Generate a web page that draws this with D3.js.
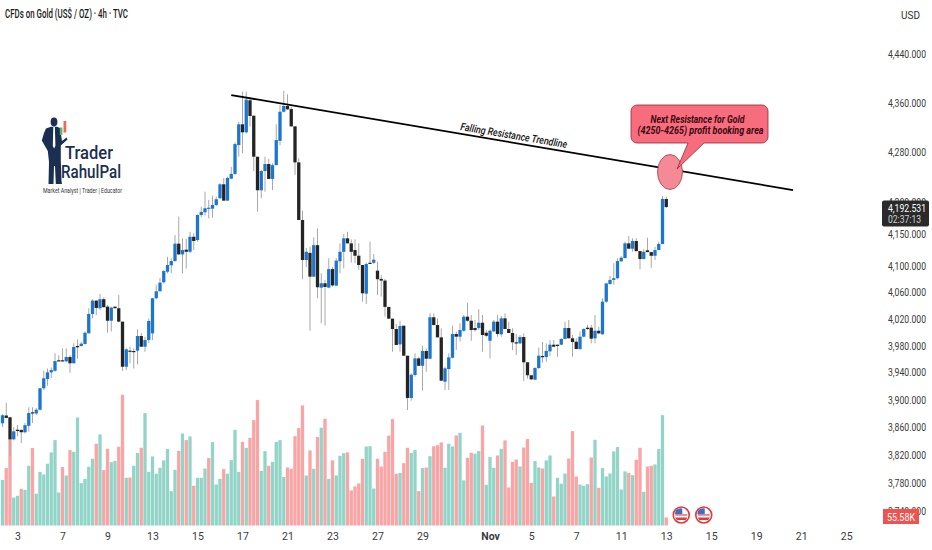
<!DOCTYPE html>
<html>
<head>
<meta charset="utf-8">
<title>CFDs on Gold</title>
<script src="https://cdn.jsdelivr.net/npm/d3@7"></script>
<style>
    html, body { margin: 0; padding: 0; background: #fff; }
    svg { display: block; font-family: Roboto, sans-serif; }
    .axis text { fill: #3a3a3a; font-size: 10.5px; font-family: Roboto, sans-serif; }
    .axis .domain { display: none; }
</style>
</head>
<body>
<div id="chart"></div>
<script>
// 4h candles
const opens = [
    3865.7,3877,3874.4,3842.5,3856.4,3856,3852.7,3862,3881.6,3880,
    3885.4,3916.8,3930.5,3940.3,3942.6,3958.2,3958.2,3956.7,3963,3953.7,
    3979.5,3979.5,3982.5,3998.4,4027.6,4047.8,4036.3,4050,4038.7,4017.4,
    4038.7,4036.3,4016,3948.6,3972.5,3972,3972.5,3994.4,3978.4,3988.4,
    3998.4,4051.4,4062,4075.8,4092,4101.8,4108.4,4135.3,4118.7,4126,
    4122.7,4146,4141,4180,4184.3,4190,4190,4195.8,4206.4,4228.5,
    4202.6,4237.4,4245,4291.2,4324.8,4311.8,4364,4338.8,4272.5,4219,
    4249.6,4260.8,4237,4259,4298,4345.2,4354.6,4349.6,4321.5,4263.4,
    4172.2,4110,4121,4084.4,4133,4067.6,4074.3,4067.6,4096,4070.6,
    4108,4122.7,4143.6,4135.8,4125.4,4116.6,4102.3,4058.4,4105.8,4105.8,
    4093.6,4081,4078.4,4038.3,4020.5,4004.9,3981.9,4009.9,3965,3902.6,
    3936.4,3961,3950,3972,3960.5,4022.6,4011,3992.4,3926.5,3945.2,
    3962,3997.4,3993.4,4002.3,4023.5,4017.4,4006.4,4006.4,4014.4,3999.3,
    3987.3,4001.4,4016,3997,4021,4004.9,3998.9,3985,3983.4,3992.9,
    3955.2,3936,3929.5,3946.7,3964.5,3963,3971.5,3981.4,3981.4,3981.4,
    3990,4006.4,3991,3985.9,3975,3993.4,4006.9,4006.9,3990.9,4002.3,
    3996.9,4046.2,4073.2,4079.4,4082,4108,4113,4135.8,4127.5,4139.4,
    4123.8,4111.5,4125,4122.2,4116.6,4125.4,4134.8,4205.3
];
const highs = [
    3879,3895.6,3875,3860,3863,3857,3866,3889,3889,3888,
    3917,3942.6,3946,3947.7,3968.6,3965.6,3976,3976,3966,3983.4,
    3989.4,3986,4001,4036.3,4050,4048.8,4058,4053,4041.2,4038.7,
    4039,4056.4,4016,3976,3978.4,3976,4004.4,3999,3993.4,4021,
    4052,4072,4082.4,4094.6,4115,4112.6,4148.7,4177.4,4143.6,4142.5,
    4153.8,4151.3,4181,4193,4216.7,4203.7,4210.5,4208.9,4230,4238.5,
    4240.5,4256.4,4295.6,4329,4378,4378,4367,4339,4272.5,4251.2,
    4272.5,4269,4262,4324.8,4356.2,4379.6,4373.8,4353.4,4321.5,4270,
    4186.8,4128.5,4130.5,4145.2,4159,4089.6,4079.4,4112.6,4099,4112.6,
    4135.8,4150.3,4153.8,4142,4142,4135.8,4102.3,4105.8,4138.4,4119.3,
    4107.4,4087,4081,4038.3,4020.5,4012.5,4017.4,4009.9,3965,3938.8,
    3968.6,3963.5,3980,3976,4028.6,4028.6,4021,4006,3948.6,3968.6,
    4009.9,4001,4013.5,4026,4044.7,4026,4018.5,4034.8,4026,4003.4,
    4004.4,4018.5,4026,4024.5,4028.6,4016,4006,3997.4,3995.9,3998.4,
    3955.2,3936,3948,3977,3985.4,3983.4,3988.4,3988.4,3981.4,3991,
    4016,4018.5,3995.9,3991,4001,4006,4011,4011,4026,4008.4,
    4051.4,4075.2,4085.5,4105,4112.6,4116,4138.4,4147.2,4143.6,4143.6,
    4123.8,4126.5,4144.5,4122.2,4130.5,4138.4,4210,4209
];
const lows = [
    3860,3873,3818,3841,3847,3837,3851,3853.5,3866,3877.7,
    3884,3914.3,3920.6,3932,3941.2,3956.7,3956.7,3955,3939.7,3953.7,
    3960.5,3978.4,3982,3998.4,4021,4026,4033.7,4037.8,3999.3,4001,
    4036,4015,3942.6,3943.7,3953.7,3946,3952,3978.4,3971,3984,
    3988.4,4050,4062,4074,4089.5,4090,4107.4,4117.7,4089.6,4097,
    4121,4125.4,4138.4,4177,4179,4175,4175.8,4194,4205,4202.6,
    4202.6,4236.4,4243.3,4272.5,4278,4310,4321,4249.6,4185.2,4206.4,
    4216.7,4237,4219.4,4259,4291,4344,4348,4320.4,4243.3,4172.2,
    4080.4,4099.2,4002.3,4084.4,4051.4,4013.5,4010,4066.7,4069,4070.6,
    4089.6,4097,4135.8,4106,4105,4094.6,4046.2,4042.8,4103.8,4103.8,
    4056.4,4053.9,4023.7,4020.5,3971,3981,3971,3965,3885,3898.6,
    3933.9,3949.6,3913.3,3941.2,3960,4010,3992.4,3927.5,3914.3,3914.3,
    3961,3973.5,3986,4001,4016,3987.3,4001,4003.4,3971,3993,
    3961,4000.4,3993.4,3993.4,4004.9,3998.9,3973.5,3966,3982.5,3927.5,
    3931,3929,3929,3945.2,3954.6,3956,3964.5,3978.4,3963.5,3981,
    3990,3991,3963.5,3974.5,3973.5,3992.4,4003.4,3983.4,3983.4,3997.4,
    3996.9,4044.2,4072,4072,4080.5,4107,4112.6,4127.5,4122.7,4122.7,
    4095.7,4111,4122.2,4098,4110,4125.4,4134.8,4191
];
const closes = [
    3877.3,3873.4,3842.5,3854,3854.5,3852.7,3863,3880.6,3880,3885.4,
    3916.8,3931.5,3940.3,3943.7,3957,3956.7,3956.7,3963,3953.7,3978,
    3977.5,3983,3999.3,4027.6,4047.8,4036.7,4050,4037.8,4017.4,4037.2,
    4036.3,4016,3948.6,3974.5,3971.5,3971,3994.4,3978.4,3988.4,4017,
    4051.4,4062,4075.2,4093,4102.3,4108.4,4135.3,4118.7,4125.4,4122.7,
    4146,4139.4,4180,4184.8,4190.6,4191.5,4195.8,4204.8,4228.5,4202.6,
    4238.5,4245,4292.8,4324.8,4311.8,4365,4338.3,4272.5,4219,4249.6,
    4260.8,4237,4259,4299.3,4345.2,4354.6,4349.2,4321.5,4263.4,4172.2,
    4110,4122.7,4084.4,4133,4068.2,4074.3,4068.6,4096,4071,4109,
    4122.7,4143.6,4135.8,4122.7,4116.6,4102.3,4059,4103.8,4104.3,4110.5,
    4080.5,4078.4,4038.3,4020.5,4004.9,3981,4009.4,3965,3902.6,3936.8,
    3961,3950,3972,3960.5,4022.6,4011,3992.4,3928,3946.2,3962.6,
    3997.4,3993.4,4003.4,4023.5,4017.4,4003.4,4003.4,4014.4,3995.9,3994.8,
    4002.3,4016,3997.4,4021,4004.9,3998.9,3985,3983.4,3992.9,3955.2,
    3936,3930,3946.7,3965,3963,3972,3981.4,3978.4,3979.5,3990,
    4006.4,3991,3985.4,3975,3993.4,4004.9,4004.9,3990.4,4002.3,3998.4,
    4046.2,4074,4079.4,4082,4108.4,4113.6,4135.8,4127.5,4139.4,4123.8,
    4111.5,4122.7,4122.2,4116.6,4125.4,4134.8,4205.3,4192.531
];
// volume in thousands, 1 = teal bar, 0 = red bar
const volumes = [
    315,396,603,193,205,253,246,412,534,219,
    370,352,426,504,589,228,403,345,520,508,
    745,292,322,405,460,564,628,382,529,437,
    446,543,902,329,331,412,501,536,775,370,
    476,357,398,449,527,237,384,515,635,589,
    614,274,329,329,393,465,575,283,322,389,
    357,451,660,370,577,536,605,727,865,377,
    513,412,439,577,589,334,400,391,616,672,
    828,345,518,391,610,674,736,322,449,345,
    481,499,504,242,269,290,460,545,547,255,
    460,407,508,619,734,357,363,430,536,501,
    520,237,396,400,478,547,554,573,398,564,
    545,621,639,311,467,501,495,513,690,281,
    472,398,483,529,587,262,439,455,407,538,
    596,294,444,400,393,449,483,200,329,288,
    359,462,651,338,283,274,285,469,591,260,
    396,338,359,511,541,248,373,363,347,453,
    536,232,407,412,421,527,761,55.58
];
const volumeUp = [
    1,0,0,1,1,0,1,1,0,1,
    1,1,1,1,1,1,0,1,0,1,
    1,1,1,1,1,0,1,0,0,1,
    1,0,0,1,0,1,1,0,1,1,
    1,1,1,1,1,1,1,0,1,0,
    1,0,1,1,1,0,1,1,1,0,
    1,1,1,1,0,1,0,0,0,1,
    1,0,1,1,1,1,0,0,0,0,
    0,1,0,1,0,1,0,1,0,1,
    1,1,0,0,0,0,0,1,1,1,
    0,0,0,0,0,0,1,0,0,1,
    1,0,1,0,1,0,0,0,1,1,
    1,0,1,1,0,0,1,1,0,1,
    1,1,0,1,0,0,0,0,1,0,
    0,0,1,1,0,1,1,0,1,1,
    1,0,0,0,1,1,1,0,1,0,
    1,1,1,1,1,1,1,0,1,0,
    0,1,0,0,1,1,1,0
];

const priceTicks = [4440, 4360, 4280, 4200, 4150, 4100, 4060, 4020, 3980, 3940, 3900, 3860, 3820, 3780, 3740];
const dateTickBars = [4, 16, 28, 40, 52, 64, 76, 88, 100, 112, 130, 141, 153, 165, 177, 189, 201, 213, 225];
const dateTickLabels = ['3', '7', '9', '13', '15', '17', '21', '23', '27', '29', 'Nov', '5', '7', '11', '13', '15', '19', '21', '25'];
const trendBars = [61, 210.8];
const trendPrices = [4372.5, 4219.4];
const lastPrice = 4192.531;
const countdown = '02:37:13';
const lastVolume = '55.58K';
const eventBars = [181, 187];

const candles = d3.range(opens.length).map(i => ({
    i, open: opens[i], high: highs[i], low: lows[i], close: closes[i], volume: volumes[i], volUp: volumeUp[i]
}));

const width = 932, height = 550;
const svg = d3.select('#chart').append('svg')
    .attr('width', width)
    .attr('height', height);

const xScale = d3.scaleLinear().domain([0, 177]).range([2.5, 666.25]);
const yScale = d3.scaleLog().domain([3780, 4360]).range([483, 102.7]);
const volScale = d3.scaleLinear().domain([0, 1000]).range([525.5, 380.5]);
const bodyWidth = 3.3;

// volume goes under the candles
svg.append('g').selectAll('rect')
    .data(candles)
    .join('rect')
    .attr('x', d => xScale(d.i) - bodyWidth / 2)
    .attr('y', d => volScale(d.volume))
    .attr('width', bodyWidth)
    .attr('height', d => volScale(0) - volScale(d.volume))
    .attr('fill', d => d.volUp ? '#93d4c8' : '#f9a5a5');

svg.append('g').selectAll('line')
    .data(candles)
    .join('line')
    .attr('x1', d => xScale(d.i))
    .attr('x2', d => xScale(d.i))
    .attr('y1', d => yScale(d.high))
    .attr('y2', d => yScale(d.low))
    .attr('stroke', '#a8a8a8')
    .attr('stroke-width', 1);

svg.append('g').selectAll('rect')
    .data(candles)
    .join('rect')
    .attr('x', d => xScale(d.i) - bodyWidth / 2)
    .attr('y', d => yScale(Math.max(d.open, d.close)))
    .attr('width', bodyWidth)
    .attr('height', d => Math.max(1.2, Math.abs(yScale(d.open) - yScale(d.close))))
    .attr('fill', d => d.close >= d.open ? '#1c75cf' : '#242424');

// axes
const priceAxis = d3.axisRight(yScale)
    .tickValues(priceTicks)
    .tickFormat(d3.format(',.3f'))
    .tickSize(0)
    .tickPadding(0);
svg.append('g')
    .attr('class', 'axis')
    .attr('transform', 'translate(888,0)')
    .call(priceAxis)
    .selectAll('text')
    .attr('textLength', 38)
    .attr('lengthAdjust', 'spacingAndGlyphs');

const dateAxis = d3.axisBottom(xScale)
    .tickValues(dateTickBars)
    .tickFormat((d, i) => dateTickLabels[i])
    .tickSize(0)
    .tickPadding(0);
svg.append('g')
    .attr('class', 'axis date-axis')
    .attr('transform', 'translate(0,533)')
    .call(dateAxis)
    .selectAll('text')
    .style('font-weight', (d, i) => dateTickLabels[i] === 'Nov' ? 700 : 400);

svg.append('text')
    .attr('x', 5).attr('y', 17.5)
    .attr('font-size', 12).attr('font-weight', 500).attr('fill', '#1a1a1a')
    .attr('textLength', 123).attr('lengthAdjust', 'spacingAndGlyphs')
    .text('CFDs on Gold (US$ / OZ) · 4h · TVC');
svg.append('text')
    .attr('x', 901).attr('y', 18.5)
    .attr('font-size', 10.5).attr('fill', '#333')
    .attr('textLength', 19).attr('lengthAdjust', 'spacingAndGlyphs')
    .text('USD');

// trendline + annotation
const trend = d3.line().x(d => xScale(d[0])).y(d => yScale(d[1]));
svg.append('path')
    .attr('d', trend(d3.zip(trendBars, trendPrices)))
    .attr('fill', 'none')
    .attr('stroke', '#000')
    .attr('stroke-width', 1.8);

svg.append('text')
    .attr('transform', 'translate(460,130) rotate(9.6)')
    .attr('font-size', 10.5).attr('font-style', 'italic').attr('font-weight', 500).attr('fill', '#111')
    .attr('textLength', 108).attr('lengthAdjust', 'spacingAndGlyphs')
    .text('Falling Resistance Trendline');

svg.append('ellipse')
    .attr('cx', 670).attr('cy', 172).attr('rx', 12.5).attr('ry', 17.5)
    .attr('fill', '#f58a97').attr('stroke', '#a93a48').attr('stroke-width', 0.8);
svg.append('path')
    .attr('d', 'M637,105H762a6,6 0 0 1 6,6V137a6,6 0 0 1 -6,6H704L677,169L688,143H637a6,6 0 0 1 -6,-6V111a6,6 0 0 1 6,-6Z')
    .attr('fill', '#f76d7e').attr('stroke', '#8f2a38').attr('stroke-width', 0.8);
svg.append('text')
    .attr('x', 650.5).attr('y', 123)
    .attr('font-size', 10.5).attr('font-style', 'italic').attr('font-weight', 700).attr('fill', '#3a0a10')
    .attr('textLength', 94).attr('lengthAdjust', 'spacingAndGlyphs')
    .text('Next Resistance for Gold');
svg.append('text')
    .attr('x', 637.5).attr('y', 133.5)
    .attr('font-size', 10.5).attr('font-style', 'italic').attr('font-weight', 700).attr('fill', '#3a0a10')
    .attr('textLength', 126).attr('lengthAdjust', 'spacingAndGlyphs')
    .text('(4250-4265) profit booking area');

// logo
const logo = svg.append('g').attr('fill', '#1b2f52');
logo.append('ellipse').attr('cx', 54).attr('cy', 122).attr('rx', 3.4).attr('ry', 4.4);
logo.append('path').attr('d', 'M46,128.5L51,126.8H57L60,128L62,141L66.5,137.5L67.5,139.5L60.8,145.5L60.8,160L61.5,181L62,184H55.8L55,166L54,166L53.5,184H48.5L49,162L47.8,151L41.8,140.5L44,133Z');
logo.append('path').attr('d', 'M53.3,127H54.9L55.4,146L54.1,148.5L52.8,146Z').attr('fill', '#fff');
logo.append('rect').attr('x', 59.8).attr('y', 127.5).attr('width', 2.6).attr('height', 7.5).attr('fill', '#5fb86a');
logo.append('rect').attr('x', 63.5).attr('y', 121).attr('width', 2.8).attr('height', 11.5).attr('fill', '#ec6a5a');
logo.append('text').attr('x', 65).attr('y', 159)
    .attr('font-size', 18).attr('font-weight', 500).attr('textLength', 48).attr('lengthAdjust', 'spacingAndGlyphs')
    .text('Trader');
logo.append('text').attr('x', 61).attr('y', 178)
    .attr('font-size', 18).attr('font-weight', 500).attr('textLength', 60).attr('lengthAdjust', 'spacingAndGlyphs')
    .text('RahulPal');
svg.append('text').attr('x', 43).attr('y', 192.5)
    .attr('font-size', 6.5).attr('fill', '#333').attr('textLength', 79).attr('lengthAdjust', 'spacingAndGlyphs')
    .text('Market Analyst | Trader | Educator');

// event flags under the last bars
const flags = svg.append('g').selectAll('g')
    .data(eventBars)
    .join('g')
    .attr('transform', d => `translate(${xScale(d)},515)`);
flags.append('circle').attr('r', 8).attr('fill', '#fff').attr('stroke', '#e5383b').attr('stroke-width', 1.6);
flags.append('path').attr('d', 'M-6,2.5H6L4.5,5H-4.5Z').attr('fill', '#e5383b');
flags.append('path').attr('d', 'M-6,-1H6V0.8H-6Z').attr('fill', '#e5838a');
flags.append('path').attr('d', 'M-5.5,-4.5A7,7 0 0 1 1,-6.5V-1H-6.5Z').attr('fill', '#3f6fc0');

// price and volume badges sit over the axis labels
svg.append('rect')
    .attr('x', 882).attr('y', 200.5).attr('width', 47).attr('height', 26).attr('rx', 2)
    .attr('fill', '#2a2a2a');
svg.append('text').attr('x', 888).attr('y', 211.5)
    .attr('font-size', 10.5).attr('fill', '#fff')
    .attr('textLength', 38).attr('lengthAdjust', 'spacingAndGlyphs')
    .text(d3.format(',.3f')(lastPrice));
svg.append('text').attr('x', 888).attr('y', 223)
    .attr('font-size', 10.5).attr('fill', '#cfcfcf')
    .attr('textLength', 33).attr('lengthAdjust', 'spacingAndGlyphs')
    .text(countdown);
svg.append('rect')
    .attr('x', 883).attr('y', 509).attr('width', 36).attr('height', 15)
    .attr('fill', '#ef5350');
svg.append('text').attr('x', 887).attr('y', 520.5)
    .attr('font-size', 10.5).attr('fill', '#fff')
    .attr('textLength', 28).attr('lengthAdjust', 'spacingAndGlyphs')
    .text(lastVolume);
</script>
</body>
</html>
